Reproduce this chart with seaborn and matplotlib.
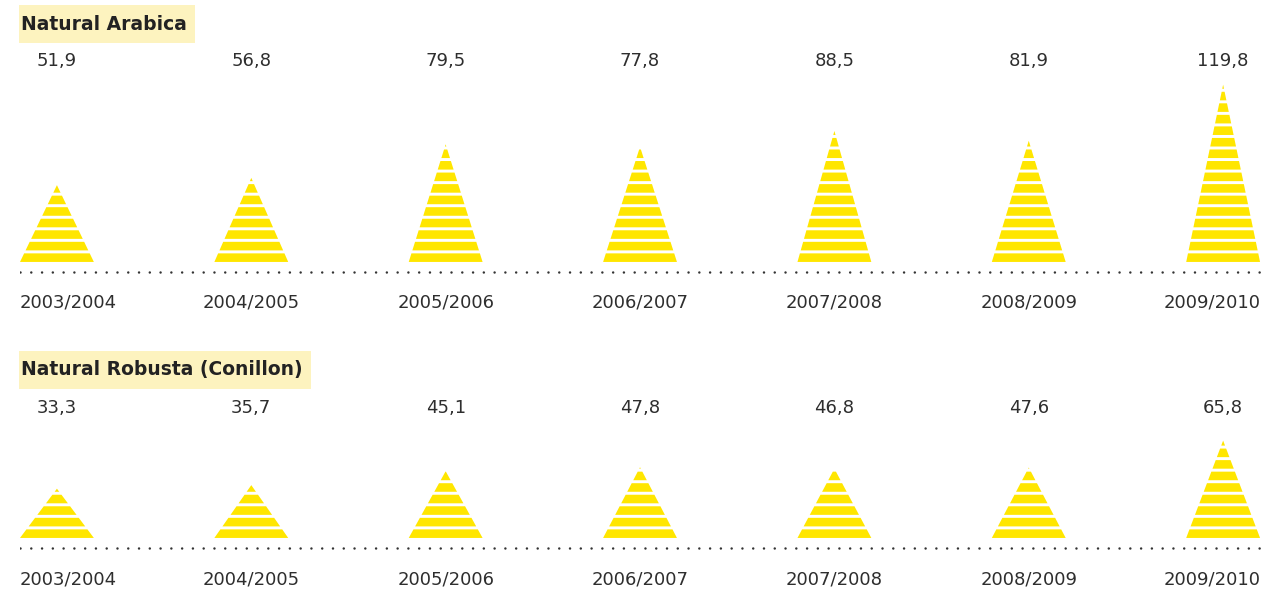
import numpy as np
import matplotlib
matplotlib.use("Agg")
import matplotlib.pyplot as plt
import matplotlib.transforms as mtransforms
from matplotlib.patches import Rectangle
import seaborn as sns

seasons = ["2003/2004", "2004/2005", "2005/2006", "2006/2007",
           "2007/2008", "2008/2009", "2009/2010"]
arabica = [51.9, 56.8, 79.5, 77.8, 88.5, 81.9, 119.8]
robusta = [33.3, 35.7, 45.1, 47.8, 46.8, 47.6, 65.8]
titles = ["Natural Arabica", "Natural Robusta (Conillon)"]

sns.set_theme(style="white")
plt.rcParams['font.family'] = ['DejaVu Sans']

YELLOW = "#FFE600"
TXT = "#2e2e2e"
W, H = 1266, 590
fig = plt.figure(figsize=(W / 100, H / 100), dpi=100)

pitch = 7.8
gap = 2.0
hw = 0.19
ylo, yhi = -12.2, 146.6


def fmt(v):
    return f"{v:.1f}".replace(".", ",")


def panel(top_px, values, title, title_y_px, val_frac, cat_frac):
    ax_h = 235
    ax = fig.add_axes([20 / W, 1 - (top_px + ax_h) / H, 1242 / W, ax_h / H])
    ax.set_xlim(-0.19, 6.2)
    ax.set_ylim(ylo, yhi)
    ax.axis("off")
    for i, v in enumerate(values):
        n = int(np.ceil(v / pitch))
        for k in range(n):
            y0 = k * pitch
            y1 = min(y0 + pitch - gap, v)
            if y1 <= y0:
                continue
            w0 = hw * (1 - y0 / v)
            w1 = hw * (1 - y1 / v)
            ax.fill([i - w0, i + w0, i + w1, i - w1], [y0, y0, y1, y1],
                    color=YELLOW, lw=0)
    ax.axhline(-6.8, color="#333333", lw=1.8, dashes=(0.01, 4.3),
               dash_capstyle="round", xmin=0, xmax=1)
    trans = mtransforms.blended_transform_factory(ax.transData, ax.transAxes)
    for i, (s, v) in enumerate(zip(seasons, values)):
        ax.text(i, val_frac, fmt(v), transform=trans, ha="center",
                va="center", fontsize=13, color=TXT)
        if i == 0:
            xs, ha = i - hw, "left"
        elif i == len(seasons) - 1:
            xs, ha = i + hw + 0.005, "right"
        else:
            xs, ha = i, "center"
        ax.text(xs, cat_frac, s, transform=trans, ha=ha, va="center",
                fontsize=13, color=TXT)
    t = fig.text(21 / W, 1 - title_y_px / H, title, ha="left", va="center",
                 fontsize=13.5, fontweight="bold", color="#222222", zorder=5)
    r = fig.canvas.get_renderer()
    bb = t.get_window_extent(renderer=r)
    x0 = 19
    x1 = bb.x1 + 8
    yc = H - title_y_px
    fig.patches.append(Rectangle((x0 / W, (yc - 19) / H), (x1 - x0) / W,
                                 38 / H, transform=fig.transFigure,
                                 fc="#FDF3BF", ec="none", zorder=1))
    sns.despine(ax=ax, left=True, bottom=True)
    return ax


panel(45, arabica, titles[0], 24, 0.932, -0.094)
panel(321, robusta, titles[1], 370, 0.63, -0.102)

fig.savefig("out.png", dpi=100)
